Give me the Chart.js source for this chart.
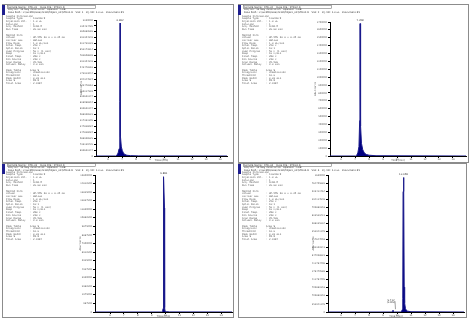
<!DOCTYPE html>
<html>
<head>
<meta charset="utf-8">
<script src="https://cdn.jsdelivr.net/npm/chart.js@4.4.0/dist/chart.umd.min.js"></script>
<style>
  body { margin: 0; background: #fff; }
  #sheet { position: relative; width: 471px; height: 322px; background: #fff; overflow: hidden; }
  canvas { position: absolute; }
</style>
</head>
<body>
<div id="sheet">
  <canvas id="pA" width="232" height="159" style="left:2px;top:4px"></canvas>
  <canvas id="pB" width="231" height="159" style="left:238px;top:4px"></canvas>
  <canvas id="pC" width="232" height="155" style="left:2px;top:163px"></canvas>
  <canvas id="pD" width="229" height="155" style="left:238px;top:163px"></canvas>
</div>
<script>
// ---- data (retention time in min, abundance in counts) ----
const xTicks = [6, 7, 8, 9, 10, 11, 12, 13, 14];

const rtA = [5.14, 6.55, 6.64, 6.72, 6.79, 6.83, 6.85, 6.86, 6.875, 6.9, 6.95, 7.02, 7.1, 7.2, 7.35, 7.6, 8.2, 14.5];
const abundA = [0, 0, 15000, 50000, 120000, 350000, 900000, 2200000, 900000, 320000, 150000, 90000, 50000, 25000, 12000, 6000, 2000, 0];
const peakRtA = [6.86];
const peakLabelA = ["6.862"];

const rtB = [5.21, 7.05, 7.12, 7.2, 7.28, 7.33, 7.35, 7.36, 7.38, 7.41, 7.46, 7.55, 7.66, 7.8, 8.0, 8.5, 14.93];
const abundB = [0, 0, 10000, 40000, 120000, 450000, 900000, 1680000, 800000, 380000, 160000, 80000, 40000, 20000, 10000, 3000, 0];
const peakRtB = [7.36];
const peakLabelB = ["7.358"];

const rtC = [4.92, 9.7, 9.78, 9.82, 9.83, 9.875, 9.92, 9.93, 9.96, 10.05, 10.3, 14.78];
const abundC = [0, 0, 30000, 400000, 12000000, 15600000, 12000000, 500000, 100000, 40000, 10000, 0];
const peakRtC = [9.875];
const peakLabelC = ["9.881"];

const rtD = [5.07, 9.6, 9.68, 9.71, 9.74, 9.8, 10.3, 10.38, 10.41, 10.43, 10.46, 10.49, 10.51, 10.54, 10.6, 10.7, 11.0, 14.78];
const abundD = [0, 0, 8000, 22000, 8000, 0, 0, 30000, 160000, 1450000, 1620000, 1450000, 300000, 110000, 40000, 12000, 3000, 0];
const peakRtD = [10.46, 9.71];
const peakLabelD = ["10.458", "9.712"];

// ---- report text ----
const headerA = [
  "Sample Name : STD-01    Data File : STD01.D",
  "Acq. On : 14 May 2019 10:32   Operator : LAB",
  "Data Path : C:\\GCMS\\Data\\2019\\Project_01\\STD01.D   Vial: 1   Inj. Vol: 1.0 uL   Instrument #1"
];
const headerB = [
  "Sample Name : STD-02    Data File : STD02.D",
  "Acq. On : 14 May 2019 11:05   Operator : LAB",
  "Data Path : C:\\GCMS\\Data\\2019\\Project_01\\STD02.D   Vial: 2   Inj. Vol: 1.0 uL   Instrument #1"
];
const headerC = [
  "Sample Name : STD-03    Data File : STD03.D",
  "Acq. On : 14 May 2019 11:41   Operator : LAB",
  "Data Path : C:\\GCMS\\Data\\2019\\Project_01\\STD03.D   Vial: 3   Inj. Vol: 1.0 uL   Instrument #1"
];
const headerD = [
  "Sample Name : STD-04    Data File : STD04.D",
  "Acq. On : 14 May 2019 12:16   Operator : LAB",
  "Data Path : C:\\GCMS\\Data\\2019\\Project_01\\STD04.D   Vial: 4   Inj. Vol: 1.0 uL   Instrument #1"
];

const infoLines = [
  "Sample Information",
  "Sample Type     : Standard",
  "Injection Vol.  : 1.0 uL",
  "Dilution        : 1",
  "Acq. Method     : SCAN.M",
  "Run Time        : 20.00 min",
  "",
  "Method Info",
  "Column          : HP-5MS 30 m x 0.25 mm",
  "Carrier Gas     : Helium",
  "Flow Rate       : 1.0 mL/min",
  "Inlet Temp.     : 250 C",
  "Split Ratio     : 10:1",
  "Oven Program    : 50 C (1 min)",
  "Ramp            : 10 C/min",
  "Final Temp.     : 280 C",
  "Ion Source      : 230 C",
  "Scan Range      : 35-500",
  "Solvent Delay   : 3.0 min",
  "",
  "Peak Table      Area %",
  "Integrator      : ChemStation",
  "Threshold       : 16.0",
  "Peak Width      : 0.02 min",
  "Area %          : 99.8",
  "Total Area      : 2.41E7"
];

// ---- report plugin: border, header, text column, peak labels ----
const reportPlugin = {
  id: "report",
  afterDraw(chart, args, o) {
    const ctx = chart.ctx;
    const w = chart.width, h = chart.height;
    ctx.save();
    ctx.strokeStyle = "#8c8c8c";
    ctx.lineWidth = 1;
    ctx.strokeRect(0.5, 0.5, w - 1, h - 1);
    ctx.fillStyle = "#1f1f8f";
    ctx.fillRect(0, 1, 3, 10);

    ctx.textBaseline = "middle";
    ctx.textAlign = "left";
    ctx.fillStyle = "#333";
    ctx.font = "2.5px 'DejaVu Sans'";
    o.header.forEach((t, i) => ctx.fillText(t, 6, o.headTop + i * 2.6));
    ctx.strokeStyle = "#777";
    ctx.lineWidth = 0.6;
    ctx.strokeRect(5.5, o.headTop - 1.5, 88, 3);

    ctx.font = "2.5px 'DejaVu Sans Mono'";
    ctx.fillStyle = "#555";
    let y = o.infoTop;
    o.info.forEach(t => {
      if (t) ctx.fillText(t, 4, y);
      y += 2.7;
    });

    // peak labels
    const xs = chart.scales.x, ys = chart.scales.y;
    const ds = chart.data.datasets[0].data;
    ctx.font = "2.5px 'DejaVu Sans'";
    ctx.textAlign = "center";
    ctx.fillStyle = "#333";
    o.peakRt.forEach((rt, i) => {
      const pt = ds.find(p => p.x === rt);
      const px = xs.getPixelForValue(rt);
      const py = ys.getPixelForValue(pt.y);
      if (i === 0) {
        ctx.fillText(o.peakLabel[i], px, py - 3);
      } else {
        ctx.fillText(o.peakLabel[i], px - 2, py - 10);
        ctx.fillText("(0.8%)", px - 2, py - 7.5);
        ctx.strokeStyle = "#444";
        ctx.lineWidth = 0.5;
        ctx.beginPath();
        ctx.moveTo(px + 2, py - 9);
        ctx.lineTo(px + 2.5, py - 1);
        ctx.stroke();
      }
    });
    ctx.restore();
  }
};

function makePanel(id, rt, abund, yMax, yStep, xMin, xMax, pad, header, headTop, infoTop, peakRt, peakLabel) {
  new Chart(document.getElementById(id), {
    type: "line",
    data: {
      datasets: [{
        data: rt.map((x, i) => ({ x, y: abund[i] })),
        borderColor: "#1a1a8c",
        backgroundColor: "#000080",
        borderWidth: 1,
        fill: "origin",
        tension: 0,
        pointRadius: 0
      }]
    },
    options: {
      responsive: false,
      devicePixelRatio: 1,
      animation: false,
      layout: { padding: pad },
      plugins: {
        legend: { display: false },
        tooltip: { enabled: false },
        report: { header, headTop, infoTop, info: infoLines, peakRt, peakLabel }
      },
      scales: {
        x: {
          type: "linear",
          min: xMin,
          max: xMax,
          afterBuildTicks: s => { s.ticks = xTicks.map(v => ({ value: v })); },
          afterFit: s => { s.height = 6; },
          ticks: { font: { size: 2.5, family: "DejaVu Sans" }, color: "#444", padding: 0, maxRotation: 0, autoSkip: false, callback: v => String(v) },
          grid: { drawOnChartArea: false, tickLength: 2, color: "#000" },
          border: { color: "#000", width: 1 },
          title: { display: true, text: "Time (min)", font: { size: 2.5, family: "DejaVu Sans" }, color: "#444", padding: 0 }
        },
        y: {
          min: 0,
          max: yMax,
          afterFit: s => { s.width = 16; },
          ticks: { stepSize: yStep, includeBounds: false, autoSkip: false, font: { size: 2.3, family: "DejaVu Sans" }, color: "#555", padding: 1, callback: v => String(v) },
          grid: { drawOnChartArea: false, tickLength: 2, color: "#000" },
          border: { color: "#000", width: 1 },
          title: { display: true, text: "Abundance", font: { size: 2.5, family: "DejaVu Sans" }, color: "#444", padding: 0 }
        }
      }
    },
    plugins: [reportPlugin]
  });
}

makePanel("pA", rtA, abundA, 2250000, 100000, 5.14, 14.5, { top: 16, right: 7, left: 78, bottom: 1 }, headerA, 3, 12, peakRtA, peakLabelA);
makePanel("pB", rtB, abundB, 1700000, 100000, 5.21, 14.93, { top: 18, right: 3, left: 76, bottom: 1 }, headerB, 3, 12, peakRtB, peakLabelB);
makePanel("pC", rtC, abundC, 15800000, 1000000, 4.92, 14.78, { top: 12, right: 2, left: 77, bottom: 0 }, headerC, 2, 9, peakRtC, peakLabelC);
makePanel("pD", rtD, abundD, 1650000, 100000, 5.07, 14.78, { top: 12, right: 3, left: 74, bottom: 0 }, headerD, 2, 9, peakRtD, peakLabelD);
</script>
</body>
</html>
